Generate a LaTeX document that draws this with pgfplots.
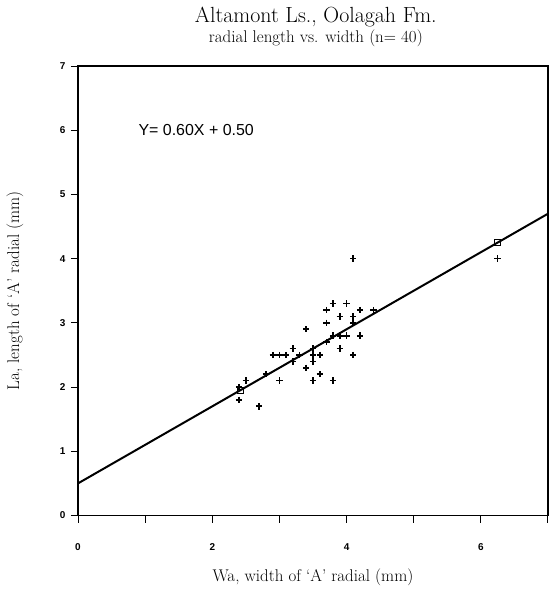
\documentclass[border=0pt]{standalone}
\usepackage{pgfplots}
\pgfplotsset{compat=1.18}
\usepackage{fontspec}
\newfontfamily\sansf{Liberation Sans}
\begin{document}
\begin{tikzpicture}
\useasboundingbox (-78bp,-74.5bp) rectangle (472bp,515.5bp);
\begin{axis}[
  at={(0,0)}, anchor=south west,
  scale only axis, width=470bp, height=449.5bp,
  clip=false,
  xmin=0, xmax=7, ymin=0, ymax=7,
  xtick={0,1,...,7}, xticklabels={0,,2,,4,,6,},
  ytick={0,1,...,7},
  xtick pos=bottom, ytick pos=left,
  tick align=outside, major tick length=7bp,
  tick style={black, line width=1pt},
  axis line style={line width=1.4pt},
  /pgf/number format/assume math mode=true,
  ticklabel style={font=\sansf\bfseries\fontsize{10}{11}\selectfont},
  xticklabel style={yshift=-18bp},
  yticklabel style={xshift=-2bp},
  xlabel={Wa, width of `A' radial (mm)},
  xlabel style={font=\fontsize{17}{20}\selectfont, at={(axis description cs:0.5,-0.137)}, anchor=center},
  ylabel={La, length of `A' radial (mm)},
  ylabel style={font=\fontsize{17}{20}\selectfont, at={(axis description cs:-0.134,0.5)}, anchor=center},
]
\addplot[only marks, mark=+, mark size=3.2bp, line width=1.7pt] coordinates {
(3.8,3.3) (4.0,3.3) (3.7,3.2) (4.2,3.2) (4.4,3.2) (3.9,3.1) (4.1,3.1) (3.7,3.0)
(4.1,3.0) (3.4,2.9) (3.8,2.8) (3.9,2.8) (4.0,2.8) (4.2,2.8) (3.7,2.7) (3.2,2.6)
(3.5,2.6) (3.9,2.6) (2.9,2.5) (3.0,2.5) (3.1,2.5) (3.3,2.5) (3.5,2.5) (3.6,2.5)
(4.1,2.5) (3.2,2.4) (3.5,2.4) (3.4,2.3) (3.6,2.2) (2.8,2.2) (3.0,2.1) (3.5,2.1)
(3.8,2.1) (2.5,2.1) (2.4,2.0) (2.4,1.8) (2.7,1.7) (4.1,4.0) (6.25,4.0) (3.5,2.5)
};
\addplot[no marks, line width=2pt] coordinates {(0,0.5) (7,4.7)};
\addplot[only marks, mark=square, mark size=3bp, line width=1.1pt] coordinates {(2.42,1.95) (6.25,4.25)};
\node[anchor=west, font=\sansf\fontsize{16}{18}\selectfont] at (axis cs:0.85,6) {Y= 0.60X + 0.50};
\node[font=\fontsize{22}{26}\selectfont] at (axis description cs:0.506,1.109) {Altamont Ls., Oolagah Fm.};
\node[font=\fontsize{17}{20}\selectfont] at (axis description cs:0.506,1.062) {radial length vs. width (n= 40)};
\end{axis}
\end{tikzpicture}
\end{document}
